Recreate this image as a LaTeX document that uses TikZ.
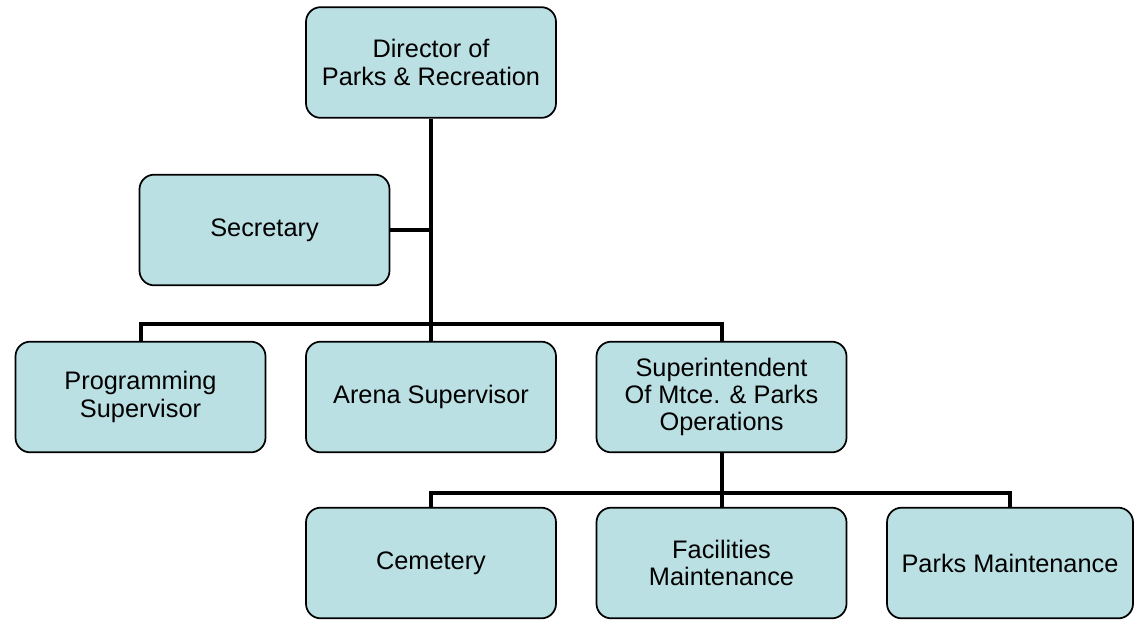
\documentclass[tikz,border=0pt]{standalone}
\usepackage{fontspec}
\setmainfont{Liberation Sans}
\usepackage{xcolor}
\usepackage{tikz}
\usetikzlibrary{positioning}

\definecolor{boxfill}{HTML}{BBE0E3}

\begin{document}
\begin{tikzpicture}[
    x=0.75pt, y=-0.75pt,
    box/.style={draw, rounded corners=11pt, align=center, minimum width=187.5pt,
                minimum height=83pt, inner sep=2pt, line width=1.3pt, fill=boxfill,
                font=\fontsize{19}{20.5}\selectfont},
    link/.style={line width=3pt}
  ]
  \useasboundingbox (0,0) rectangle (1134,619);

  \node[box] (dir)   at (431,62.5)  {Director of\\Parks \& Recreation};
  \node[box] (sec)   at (264.5,230) {Secretary};
  \node[box] (prog)  at (140.5,397) {Programming\\Supervisor};
  \node[box] (arena) at (431,397)   {Arena Supervisor};
  \node[box] (super) at (721.5,397) {Superintendent\\Of Mtce. \& Parks\\Operations};
  \node[box] (cem)   at (431,563)   {Cemetery};
  \node[box] (facil) at (721.5,563) {Facilities\\Maintenance};
  \node[box, minimum width=184.5pt] (parks) at (1010,563) {Parks Maintenance};

  \coordinate (bus1) at (431,324);
  \coordinate (bus2) at (721.5,493);

  \draw[link] (dir) -- (arena);
  \draw[link] (sec.east) -- (sec.east -| dir.south);
  \draw[link] (prog.north) |- (bus1) -| (super.north);
  \draw[link] (super) -- (facil);
  \draw[link] (cem.north) |- (bus2) -| (parks.north);
\end{tikzpicture}
\end{document}
